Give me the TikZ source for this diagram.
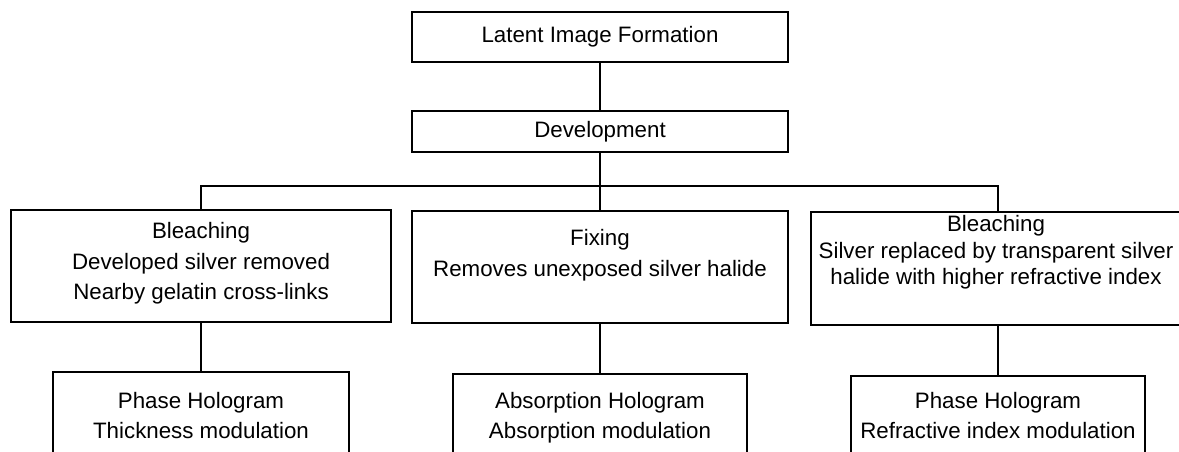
\documentclass[tikz,border=0pt]{standalone}
\usepackage{fontspec}
\setmainfont{Liberation Sans}

\begin{document}
\begin{tikzpicture}[x=0.02cm, y=-0.02cm, line width=1.1pt,
    box/.style={draw, inner sep=0pt, font=\fontsize{12.7}{17.6}\selectfont},
    txt/.style={align=center, anchor=north, inner sep=0pt, font=\fontsize{12.7}{#1}\selectfont},
    txt/.default=17.6]

  \useasboundingbox (0,0) rectangle (1179,452);
  \clip (0,0) rectangle (1179,452);

  \node [box, minimum width=7.52cm, minimum height=1.0cm] (latent) at (600,37) {Latent Image Formation};
  \node [box, minimum width=7.52cm, minimum height=0.82cm] (devel) at (600,131.5) {Development};

  \node [box, minimum width=7.6cm, minimum height=2.24cm] (bleachA) at (201,266) {};
  \node [box, minimum width=7.52cm, minimum height=2.24cm] (fixing) at (600,267) {};
  \node [box, minimum width=7.48cm, minimum height=2.26cm] (bleachB) at (998,268.5) {};

  \node [box, anchor=north, minimum width=5.92cm, minimum height=2.2cm] (phaseA) at (201,371) {};
  \node [box, anchor=north, minimum width=5.88cm, minimum height=2.2cm] (absorb) at (600,373) {};
  \node [box, anchor=north, minimum width=5.88cm, minimum height=2.2cm] (phaseB) at (998,375) {};

  \node [txt] (bleachAtext) at (201,221) {Bleaching\\Developed silver removed\\Nearby gelatin cross-links};
  \node [txt] (fixingtext) at (600,228) {Fixing\\Removes unexposed silver halide};
  \node [txt=15.3] (bleachBtext) at (996,214) {Bleaching\\Silver replaced by transparent silver\\halide with higher refractive index};

  \node [txt=17] (phaseAtext) at (201,391) {Phase Hologram\\Thickness modulation};
  \node [txt=17] (absorbtext) at (600,391) {Absorption Hologram\\Absorption modulation};
  \node [txt=17] (phaseBtext) at (998,391) {Phase Hologram\\Refractive index modulation};

  \coordinate (bar) at (600,186);

  \draw (latent) -- (devel);
  \draw (devel) -- (fixing);
  \draw (bleachA.north) |- (bar) -| (bleachB.north);
  \draw (bleachA) -- (phaseA);
  \draw (fixing) -- (absorb);
  \draw (bleachB) -- (phaseB);

\end{tikzpicture}
\end{document}
